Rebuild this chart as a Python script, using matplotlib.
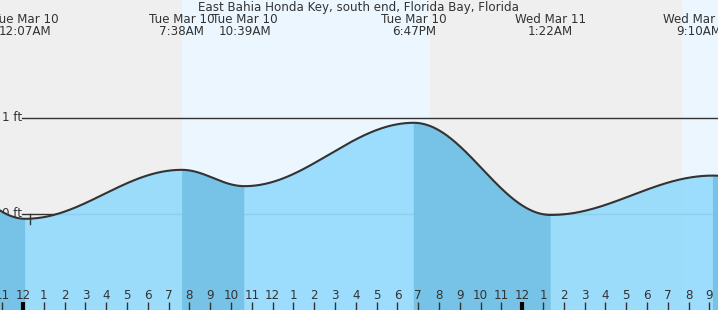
import numpy as np
import matplotlib.pyplot as plt

# ================= DATA =================
TITLE = "East Bahia Honda Key, south end, Florida Bay, Florida"
# tide extremes, hours from midnight Tue Mar 10
EVENT_HOURS = [-6.3, 0.117, 7.633, 10.65, 18.783, 25.367, 33.167, 39.5]
EVENT_FT = [0.95, -0.05, 0.46, 0.29, 0.95, -0.01, 0.40, 0.05]
EVENT_DAY = ["", "Tue Mar 10", "Tue Mar 10", "Tue Mar 10", "Tue Mar 10", "Wed Mar 11", "Wed Mar 11", ""]
EVENT_TIME = ["", "12:07AM", "7:38AM", "10:39AM", "6:47PM", "1:22AM", "9:10AM", ""]
# daylight spans (hours)
DAYLIGHT = [(7.64, 19.57), (31.68, 40.0)]
HOUR_TICKS = list(range(-1, 34))
# ========================================

X0, X1 = -1.106, 33.41
Y0, Y1 = -1.0, 2.229
PX = 20.8  # pixels per hour
FS = 8.6

NIGHT_BG = "#efefef"
DAY_BG = "#ebf6ff"
FILL_LIGHT = "#96dbfc"
FILL_DARK = "#74c2e6"
TXT = "#333333"


def tide_curve(t):
    """ cosine interpolation between successive tide extremes """
    out = np.empty_like(t)
    for i in range(len(EVENT_HOURS) - 1):
        a, b = EVENT_HOURS[i], EVENT_HOURS[i + 1]
        m = (t >= a) & (t <= b)
        f = (t[m] - a) / (b - a)
        out[m] = EVENT_FT[i] + (EVENT_FT[i + 1] - EVENT_FT[i]) * (1 - np.cos(np.pi * f)) / 2
    return out


fig = plt.figure(figsize=(7.18, 3.10), dpi=100)
ax = fig.add_axes([0, 0, 1, 1])
ax.set_xlim(X0, X1)
ax.set_ylim(Y0, Y1)
ax.axis("off")
ax.add_patch(plt.Rectangle((X0, Y0), X1 - X0, Y1 - Y0, color=NIGHT_BG, zorder=0))
for a, b in DAYLIGHT:
    ax.axvspan(a, b, color=DAY_BG, lw=0, zorder=0.5)

t = np.linspace(X0, X1, 2000)
h = tide_curve(t)

# reference lines
xl = X0 + 22 / PX
ax.plot([xl, X1], [1, 1], color=TXT, lw=1, zorder=1)
ax.plot([xl, X1], [0, 0], color=TXT, lw=1, zorder=1)
ax.text(X0 + 2 / PX, 1, "1 ft", ha="left", va="center", fontsize=FS, color=TXT)
ax.text(X0 + 2 / PX, 0, "0 ft", ha="left", va="center", fontsize=FS, color=TXT, zorder=1)

# water fill, darker while the tide falls
ax.fill_between(t, Y0, h, color=FILL_LIGHT, lw=0, alpha=0.93, zorder=2)
falling = np.zeros_like(t, dtype=bool)
for i in range(len(EVENT_HOURS) - 1):
    if EVENT_FT[i] > EVENT_FT[i + 1]:
        falling |= (t >= EVENT_HOURS[i]) & (t <= EVENT_HOURS[i + 1])
ax.fill_between(t, Y0, h, where=falling, color=FILL_DARK, lw=0, alpha=0.93, zorder=2.1)
ax.plot(t, h, color=TXT, lw=1.5, zorder=3)

# current time marker
ax.plot([0.33, 0.33], [0.0, -0.1], color=TXT, lw=1, zorder=4)

# event labels
for hr, day, tm in zip(EVENT_HOURS, EVENT_DAY, EVENT_TIME):
    if not day:
        continue
    xpos = min(hr, X1 - 19 / PX)
    ax.text(xpos, Y1 - 19 / 96, day, ha="center", va="center", fontsize=FS, color=TXT)
    ax.text(xpos, Y1 - 31 / 96, tm, ha="center", va="center", fontsize=FS, color=TXT)

ax.text((X0 + X1) / 2, Y1 - 7 / 96, TITLE, ha="center", va="center", fontsize=FS, color=TXT)

# hour ticks
for hr in HOUR_TICKS:
    lab = hr % 12 or 12
    ax.text(hr, Y0 + 14 / 96, str(lab), ha="center", va="center", fontsize=FS, color=TXT, zorder=5)
    midnight = hr % 24 == 0
    ax.plot([hr, hr], [Y0, Y0 + 8 / 96], color="black" if midnight else TXT,
            lw=3 if midnight else 1, solid_capstyle="butt", zorder=5)

fig.savefig("out.png", dpi=100)
